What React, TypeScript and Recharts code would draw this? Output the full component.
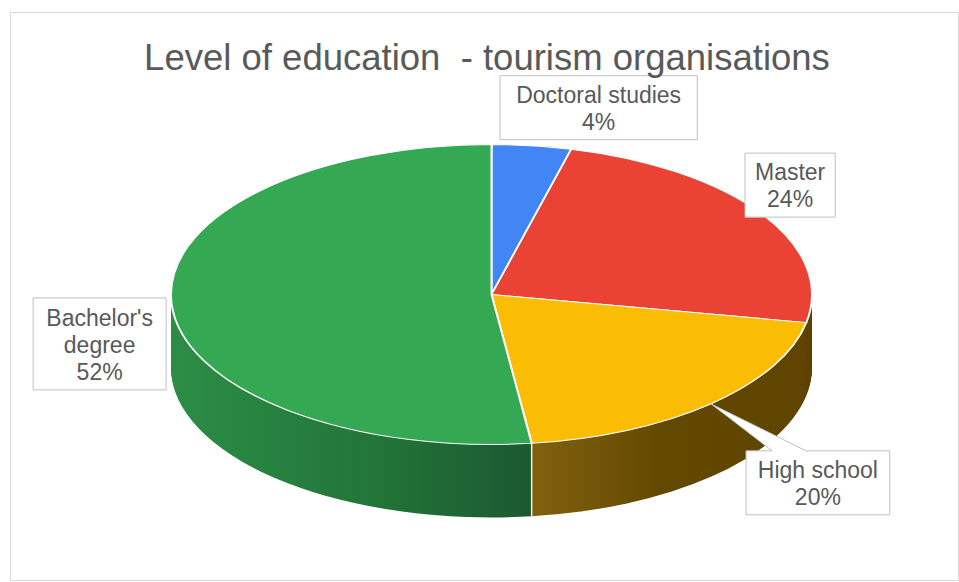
import React from 'react';
import { PieChart, Pie, Cell } from 'recharts';

// shares, clockwise from 12 o'clock
const CATEGORIES = ['Doctoral studies', 'Master', 'High school', "Bachelor's degree"];
const SHARES = [4, 24, 20, 52];
const LABEL_LINES = [['Doctoral studies'], ['Master'], ['High school'], ["Bachelor's", 'degree']];

const TOP_COLORS = ['#4285f4', '#ea4335', '#fbbc04', '#34a853'];
const SIDE_FILLS = ['url(#sideBlue)', 'url(#sideRed)', 'url(#sideYellow)', 'url(#sideGreen)'];

// label box centre, relative to the slice's mid point on the rim (screen px)
const LABEL_SHIFT = [
  [67, -38],
  [28, -29],
  [107, 79],
  [-72, 40],
];

const W = 959;
const H = 582;
const RX = 320.5; // horizontal radius of the top face
const RY = 150; // vertical radius after tilt
const S = RY / RX; // vertical squash
const CX = 491.5;
const CY = 294.5 / S;
const DEPTH = 73 / S;
const CHART_H = Math.ceil(H / S);

const FONT = "'Liberation Sans', Arial, sans-serif";
const TEXT = '#595959';
const LH = 27;

const pieData = CATEGORIES.map((name, i) => ({ name, value: SHARES[i] }));

const depthSteps: number[] = [];
for (let d = DEPTH; d > 0; d -= 2) depthSteps.push(d);

function calloutPath(x0: number, y0: number, x1: number, y1: number, tx: number, ty: number) {
  const w = x1 - x0;
  const h = y1 - y0;
  const half = 17;
  const ox = tx < x0 ? x0 - tx : tx > x1 ? tx - x1 : 0;
  const oy = ty < y0 ? y0 - ty : ty > y1 ? ty - y1 : 0;
  const clamp = (v: number, a: number, b: number) => Math.max(a, Math.min(b, v));
  if (ox < 8 && oy < 8) {
    return `M${x0},${y0} L${x1},${y0} L${x1},${y1} L${x0},${y1} Z`;
  }
  if (oy >= ox) {
    const bx = clamp(tx, x0 + w * 0.3, x1 - w * 0.3);
    if (ty < y0) {
      return `M${x0},${y0} L${bx - half},${y0} L${tx},${ty} L${bx + half},${y0} L${x1},${y0} L${x1},${y1} L${x0},${y1} Z`;
    }
    return `M${x0},${y0} L${x1},${y0} L${x1},${y1} L${bx + half},${y1} L${tx},${ty} L${bx - half},${y1} L${x0},${y1} Z`;
  }
  const by = clamp(ty, y0 + h * 0.3, y1 - h * 0.3);
  if (tx < x0) {
    return `M${x0},${y0} L${x1},${y0} L${x1},${y1} L${x0},${y1} L${x0},${by + half} L${tx},${ty} L${x0},${by - half} Z`;
  }
  return `M${x0},${y0} L${x1},${y0} L${x1},${by - half} L${tx},${ty} L${x1},${by + half} L${x1},${y1} L${x0},${y1} Z`;
}

const renderCallout = (props: any) => {
  const { cx, cy, midAngle, outerRadius, index, value, startAngle } = props;
  const rad = (-midAngle * Math.PI) / 180;
  const ax = cx + outerRadius * Math.cos(rad);
  const ay = cy + outerRadius * Math.sin(rad);

  // white seam on the side where a slice starts in the front half
  let seam = null;
  if (typeof startAngle === 'number') {
    const sr = (-startAngle * Math.PI) / 180;
    const sx = cx + outerRadius * Math.cos(sr);
    const sy = cy + outerRadius * Math.sin(sr);
    if (sy > cy + outerRadius * 0.3) {
      seam = <line x1={sx} y1={sy} x2={sx} y2={sy + DEPTH} stroke="#f4f1d8" strokeWidth={1.5} />;
    }
  }

  const lines = [...LABEL_LINES[index], `${value}%`];
  const maxChars = Math.max(...lines.map((l) => l.length));
  const bw = maxChars * 10.7 + 26;
  const bh = lines.length * 28 + 8;
  const [dx, dy] = LABEL_SHIFT[index];
  const x0 = dx - bw / 2;
  const y0 = dy - bh / 2;
  const firstBase = dy - (lines.length * LH) / 2 + LH * 0.82;

  return (
    <g key={`callout-${index}`}>
      {seam}
      <g transform={`translate(${ax},${ay}) scale(1,${1 / S})`}>
        <path d={calloutPath(x0, y0, x0 + bw, y0 + bh, 0, 0)} fill="#fff" stroke="#bfbfbf" strokeWidth={1} />
        {lines.map((l, i) => (
          <text
            key={i}
            x={dx}
            y={firstBase + i * LH}
            textAnchor="middle"
            fontFamily={FONT}
            fontSize={23}
            fill={TEXT}
          >
            {l}
          </text>
        ))}
      </g>
    </g>
  );
};

export default function App() {
  return (
    <div style={{ position: 'fixed', left: 0, top: 0, width: W, height: H, overflow: 'hidden', background: '#fff' }}>
      <div
        style={{
          position: 'absolute',
          left: 10,
          top: 12,
          width: 947,
          height: 567,
          border: '1px solid #d9d9d9',
        }}
      />
      <div
        style={{
          position: 'absolute',
          left: 0,
          top: 0,
          width: W,
          height: CHART_H,
          transform: `scaleY(${S})`,
          transformOrigin: '0 0',
        }}
      >
        <PieChart width={W} height={CHART_H} margin={{ top: 0, right: 0, bottom: 0, left: 0 }}>
          <defs>
            <linearGradient id="sideGreen" gradientUnits="userSpaceOnUse" x1={171} y1={0} x2={540} y2={0}>
              <stop offset="0%" stopColor="#2c8d47" />
              <stop offset="55%" stopColor="#237538" />
              <stop offset="100%" stopColor="#1b5731" />
            </linearGradient>
            <linearGradient id="sideYellow" gradientUnits="userSpaceOnUse" x1={540} y1={0} x2={812} y2={0}>
              <stop offset="0%" stopColor="#80600e" />
              <stop offset="45%" stopColor="#634800" />
              <stop offset="100%" stopColor="#5e4400" />
            </linearGradient>
            <linearGradient id="sideRed" gradientUnits="userSpaceOnUse" x1={540} y1={0} x2={812} y2={0}>
              <stop offset="0%" stopColor="#6a4300" />
              <stop offset="100%" stopColor="#5e4000" />
            </linearGradient>
            <linearGradient id="sideBlue" gradientUnits="userSpaceOnUse" x1={171} y1={0} x2={812} y2={0}>
              <stop offset="0%" stopColor="#2a5aa8" />
              <stop offset="100%" stopColor="#1f4786" />
            </linearGradient>
          </defs>
          {depthSteps.map((d) => (
            <Pie
              key={`side-${d.toFixed(1)}`}
              data={pieData}
              dataKey="value"
              nameKey="name"
              cx={CX}
              cy={CY + d}
              outerRadius={RX}
              startAngle={90}
              endAngle={-270}
              stroke="none"
              label={false}
              labelLine={false}
              isAnimationActive={false}
            >
              {pieData.map((e, i) => (
                <Cell key={e.name} fill={SIDE_FILLS[i]} />
              ))}
            </Pie>
          ))}
          <Pie
            data={pieData}
            dataKey="value"
            nameKey="name"
            cx={CX}
            cy={CY}
            outerRadius={RX}
            startAngle={90}
            endAngle={-270}
            stroke="#ffffff"
            strokeWidth={2}
            label={renderCallout}
            labelLine={false}
            isAnimationActive={false}
          >
            {pieData.map((e, i) => (
              <Cell key={e.name} fill={TOP_COLORS[i]} />
            ))}
          </Pie>
        </PieChart>
      </div>
      <div
        style={{
          position: 'absolute',
          left: 0,
          width: 974,
          top: 40,
          textAlign: 'center',
          fontFamily: FONT,
          fontSize: 36.5,
          lineHeight: '36px',
          color: TEXT,
          whiteSpace: 'pre',
        }}
      >
        Level of education  - tourism organisations
      </div>
    </div>
  );
}
